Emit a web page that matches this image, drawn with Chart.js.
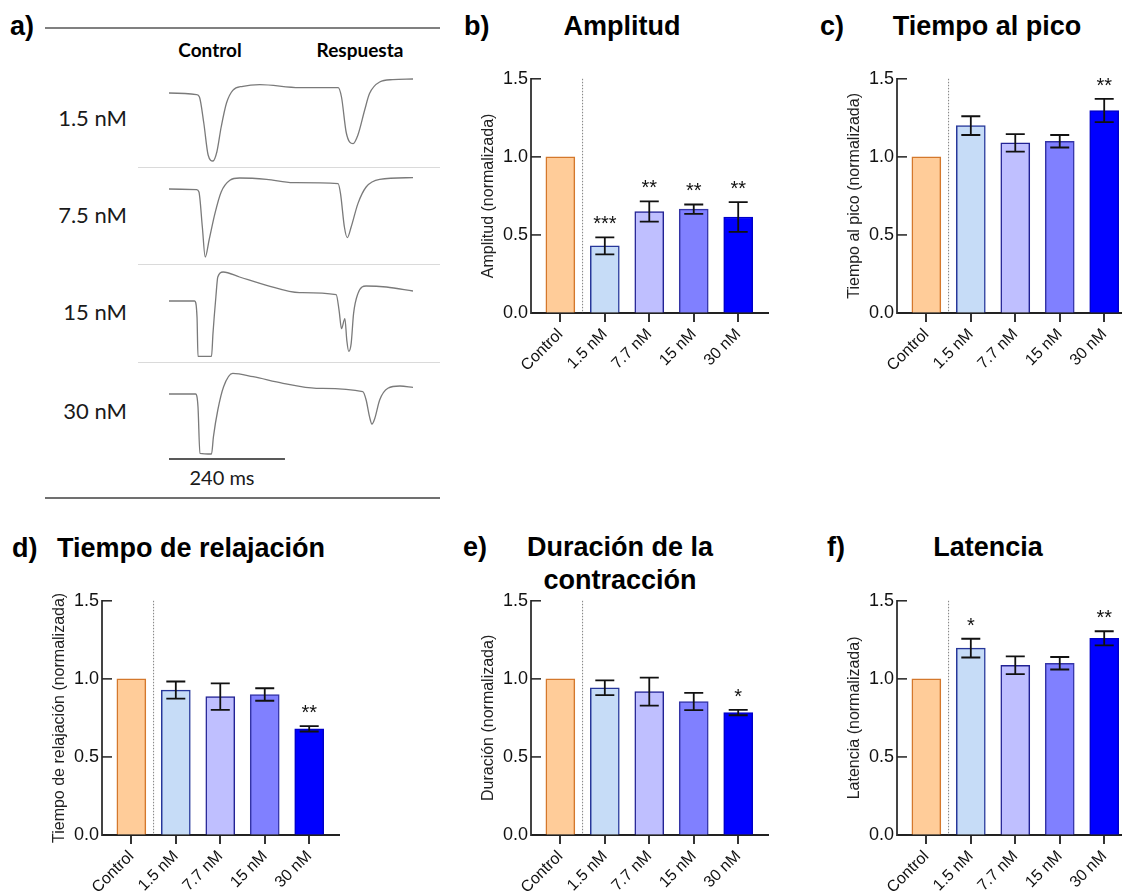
<!DOCTYPE html>
<html lang="es">
<head>
<meta charset="UTF-8">
<title>Contracción - panel</title>
<script src="https://cdn.jsdelivr.net/npm/chart.js"></script>
<style>
    html, body { margin: 0; padding: 0; background: #fff; }
    body { width: 1122px; height: 894px; position: relative; overflow: hidden; font-family: 'Liberation Sans', Arial, sans-serif; color: #111; }
    canvas { position: absolute; }
    .t { position: absolute; white-space: nowrap; line-height: 1; }
    .ttl { font-size: 27px; font-weight: bold; color: #000; }
    .mid { transform: translateX(-50%); }
    .rgt { transform: translateX(-100%); }
    .lato { font-family: Lato, 'Open Sans', sans-serif; color: #1a1a1a; }
    .hl { position: absolute; }
</style>
</head>
<body>

<!-- panel a: registros -->
<div class="t ttl" style="left:10px; top:13px;">a)</div>
<div class="hl" style="left:45px; top:27px; width:395px; height:2px; background:#808080;"></div>
<div class="t lato mid" style="left:210px; top:40px; font-size:19px; font-weight:bold; color:#000;">Control</div>
<div class="t lato mid" style="left:360px; top:40px; font-size:19px; font-weight:bold; color:#000;">Respuesta</div>
<div class="t lato rgt" style="left:127px; top:107px; font-size:22px;">1.5 nM</div>
<div class="t lato rgt" style="left:127px; top:204px; font-size:22px;">7.5 nM</div>
<div class="t lato rgt" style="left:127px; top:301px; font-size:22px;">15 nM</div>
<div class="t lato rgt" style="left:127px; top:400px; font-size:22px;">30 nM</div>
<div class="hl" style="left:138px; top:167px; width:302px; height:1px; background:#dadada;"></div>
<div class="hl" style="left:138px; top:264px; width:302px; height:1px; background:#dadada;"></div>
<div class="hl" style="left:138px; top:362px; width:302px; height:1px; background:#dadada;"></div>
<div class="hl" style="left:45px; top:497px; width:395px; height:2px; background:#707070;"></div>
<div class="t lato mid" style="left:222px; top:467px; font-size:20px;">240 ms</div>

<canvas id="tr1" width="244" height="110" style="left:169px; top:58px;"></canvas>
<canvas id="tr2" width="244" height="110" style="left:169px; top:154px;"></canvas>
<canvas id="tr3" width="244" height="110" style="left:169px; top:266px;"></canvas>
<canvas id="tr4" width="244" height="110" style="left:169px; top:359px;"></canvas>

<!-- titulos de los graficos de barras -->
<div class="t ttl" style="left:464px; top:13px;">b)</div>
<div class="t ttl mid" style="left:622px; top:13px;">Amplitud</div>
<div class="t ttl" style="left:820px; top:13px;">c)</div>
<div class="t ttl mid" style="left:987px; top:13px;">Tiempo al pico</div>
<div class="t ttl" style="left:12px; top:535px;">d)</div>
<div class="t ttl mid" style="left:191px; top:535px;">Tiempo de relajación</div>
<div class="t ttl" style="left:463px; top:534px;">e)</div>
<div class="t ttl mid" style="left:620px; top:534px;">Duración de la</div>
<div class="t ttl mid" style="left:620px; top:567px;">contracción</div>
<div class="t ttl" style="left:827px; top:534px;">f)</div>
<div class="t ttl mid" style="left:988px; top:534px;">Latencia</div>

<canvas id="chartB" width="303" height="318" style="left:475px; top:65px;"></canvas>
<canvas id="chartC" width="303" height="318" style="left:841px; top:65px;"></canvas>
<canvas id="chartD" width="303" height="318" style="left:46px; top:587px;"></canvas>
<canvas id="chartE" width="303" height="318" style="left:475px; top:587px;"></canvas>
<canvas id="chartF" width="303" height="318" style="left:841px; top:587px;"></canvas>

<script>
    // ---- datos ----
    var categories = ['Control', '1.5 nM', '7.7 nM', '15 nM', '30 nM'];
    var yTicks = [0, 0.5, 1.0, 1.5];

    var amplitudMean = [1.0, 0.43, 0.65, 0.665, 0.615];
    var amplitudErr  = [0, 0.055, 0.065, 0.03, 0.095];
    var amplitudSig  = ['', '***', '**', '**', '**'];

    var picoMean = [1.0, 1.20, 1.09, 1.10, 1.297];
    var picoErr  = [0, 0.06, 0.056, 0.04, 0.075];
    var picoSig  = ['', '', '', '', '**'];

    var relajMean = [1.0, 0.928, 0.886, 0.90, 0.68];
    var relajErr  = [0, 0.055, 0.085, 0.04, 0.017];
    var relajSig  = ['', '', '', '', '**'];

    var duracionMean = [1.0, 0.943, 0.918, 0.855, 0.784];
    var duracionErr  = [0, 0.047, 0.09, 0.055, 0.017];
    var duracionSig  = ['', '', '', '', '*'];

    var latenciaMean = [1.0, 1.197, 1.087, 1.10, 1.26];
    var latenciaErr  = [0, 0.06, 0.057, 0.04, 0.045];
    var latenciaSig  = ['', '*', '', '', '**'];

    // registros [tiempo ms, señal u.a.]
    var trace15 = [[0,0],[57,-0.16],[63,-0.4],[72,-3.0],[81,-6.2],[91,-6.8],[99,-5.9],[108,-3.4],[119,-1.0],[132,0.27],[153,0.67],[188,0.84],[270,0.54],[350,0.54],[357,-0.4],[367,-4.0],[381,-5.06],[391,-4.2],[405,-1.7],[415,-0.06],[436,1.1],[463,1.34],[505,1.4]];
    var trace75 = [[0,0],[57,-0.06],[62,-0.3],[69,-3.8],[75,-6.8],[83,-5.1],[95,-2.46],[108,-0.3],[126,0.87],[146,1.1],[202,0.97],[257,0.64],[350,0.54],[355,-0.46],[363,-3.8],[369,-4.86],[377,-3.8],[391,-1.46],[408,0.2],[436,0.97],[505,1.14]];
    var trace150 = [[0,0],[53,0],[58,-1.6],[60,-5.53],[88,-5.53],[91,-3.26],[97,0.4],[101,2.4],[112,2.9],[146,2.4],[202,1.57],[270,0.84],[346,0.64],[352,-0.93],[357,-2.76],[364,-1.76],[368,-3.93],[372,-5.03],[377,-4.26],[382,-1.26],[391,0.74],[408,1.5],[450,1.4],[505,1.0]];
    var trace300 = [[0,0],[55,0],[60,-1.27],[64,-5.93],[88,-6.0],[92,-4.27],[101,-1.6],[113,0.73],[132,2.07],[174,1.73],[236,1.07],[305,0.57],[401,0.23],[408,-0.6],[415,-2.27],[420,-3.0],[426,-2.43],[436,-0.6],[453,0.57],[478,0.8],[505,0.67]];
    var scaleBarMs = [0, 240];
    var scaleBarLevel = -6.5;

    // ---- estilos ----
    Chart.defaults.font.family = "'Liberation Sans', Arial, sans-serif";
    var barFill = ['#FFCC99', '#C6DCF7', '#BFBFFF', '#8080FF', '#0000FF'];
    var barEdge = ['#D4782C', '#27379A', '#222294', '#3434A6', '#0000C8'];

    // registros del panel a
    function traceChart(id, pts, extra) {
        var sets = [{
            data: pts.map(function (p) { return { x: p[0], y: p[1] }; }),
            borderColor: '#7a7a7a',
            borderWidth: 1.3,
            pointRadius: 0,
            cubicInterpolationMode: 'monotone'
        }];
        if (extra) sets.push(extra);
        return new Chart(document.getElementById(id), {
            type: 'line',
            data: { datasets: sets },
            options: {
                responsive: false,
                animation: false,
                layout: { padding: 0 },
                plugins: { legend: { display: false }, tooltip: { enabled: false } },
                scales: {
                    x: { type: 'linear', display: false, min: 0, max: 505 },
                    y: { display: false, min: -7.5, max: 3.5 }
                }
            }
        });
    }

    traceChart('tr1', trace15);
    traceChart('tr2', trace75);
    traceChart('tr3', trace150);
    traceChart('tr4', trace300, {
        data: scaleBarMs.map(function (t) { return { x: t, y: scaleBarLevel }; }),
        borderColor: '#222',
        borderWidth: 1.5,
        pointRadius: 0
    });

    // barras de error, asteriscos, ticks interiores y linea punteada
    function panelMarks(err, sig) {
        return {
            id: 'panelMarks',
            afterDatasetsDraw: function (chart) {
                var ctx = chart.ctx, area = chart.chartArea;
                var x = chart.scales.x, y = chart.scales.y;
                var vals = chart.data.datasets[0].data;
                ctx.save();

                // separador Control / tratamientos
                var sx = x.getPixelForValue(0.5);
                ctx.strokeStyle = '#808080';
                ctx.lineWidth = 1;
                ctx.setLineDash([1.5, 1.5]);
                ctx.beginPath();
                ctx.moveTo(sx, area.top);
                ctx.lineTo(sx, area.bottom);
                ctx.stroke();
                ctx.setLineDash([]);

                // ticks del eje y hacia dentro
                ctx.strokeStyle = '#222';
                ctx.lineWidth = 1.5;
                y.ticks.forEach(function (t) {
                    var py = y.getPixelForValue(t.value);
                    ctx.beginPath();
                    ctx.moveTo(area.left, py);
                    ctx.lineTo(area.left + 10, py);
                    ctx.stroke();
                });

                // barras de error
                ctx.strokeStyle = '#111';
                ctx.lineWidth = 1.8;
                ctx.fillStyle = '#111';
                ctx.font = "20px 'Liberation Sans', Arial, sans-serif";
                ctx.textAlign = 'center';
                ctx.textBaseline = 'alphabetic';
                err.forEach(function (e, i) {
                    if (!e) return;
                    var m = vals[i].y;
                    var px = x.getPixelForValue(i);
                    var top = y.getPixelForValue(m + e);
                    var bot = y.getPixelForValue(m - e);
                    ctx.beginPath();
                    ctx.moveTo(px, top); ctx.lineTo(px, bot);
                    ctx.moveTo(px - 9.5, top); ctx.lineTo(px + 9.5, top);
                    ctx.moveTo(px - 9.5, bot); ctx.lineTo(px + 9.5, bot);
                    ctx.stroke();
                    if (sig[i]) ctx.fillText(sig[i], px, top - 7);
                });
                ctx.restore();
            }
        };
    }

    function barPanel(id, mean, err, sig, yTitle) {
        return new Chart(document.getElementById(id), {
            type: 'bar',
            data: {
                datasets: [{
                    data: mean.map(function (v, i) { return { x: i, y: v }; }),
                    backgroundColor: barFill,
                    borderColor: barEdge,
                    borderWidth: 1.5,
                    borderSkipped: 'start',
                    barThickness: 29
                }]
            },
            options: {
                responsive: false,
                animation: false,
                layout: { padding: { top: 12, right: 10, left: 0, bottom: 0 } },
                plugins: { legend: { display: false }, tooltip: { enabled: false } },
                scales: {
                    x: {
                        type: 'linear',
                        min: -0.66,
                        max: 4.67,
                        offset: false,
                        z: 1,
                        afterBuildTicks: function (s) { s.ticks = categories.map(function (c, i) { return { value: i }; }); },
                        afterFit: function (s) { s.height = 70; },
                        ticks: {
                            callback: function (v) { return categories[v]; },
                            autoSkip: false,
                            minRotation: 45,
                            maxRotation: 45,
                            padding: 3,
                            color: '#111',
                            font: { size: 16 }
                        },
                        grid: { offset: false, drawOnChartArea: false, drawTicks: true, tickLength: 9, color: '#333', lineWidth: 2 },
                        border: { display: true, color: '#222', width: 2, dash: [1.5, 2] }
                    },
                    y: {
                        min: 0,
                        max: 1.5,
                        afterBuildTicks: function (s) { s.ticks = yTicks.map(function (v) { return { value: v }; }); },
                        afterFit: function (s) { s.width = 56; },
                        ticks: {
                            callback: function (v) { return v.toFixed(1); },
                            padding: 3,
                            color: '#111',
                            font: { size: 18 }
                        },
                        grid: { drawOnChartArea: false, drawTicks: false },
                        border: { display: true, color: '#444', width: 2 },
                        title: { display: true, text: yTitle, color: '#222', font: { size: 16 }, padding: { top: 4, bottom: 4 } }
                    }
                }
            },
            plugins: [panelMarks(err, sig)]
        });
    }

    barPanel('chartB', amplitudMean, amplitudErr, amplitudSig, 'Amplitud (normalizada)');
    barPanel('chartC', picoMean, picoErr, picoSig, 'Tiempo al pico (normalizada)');
    barPanel('chartD', relajMean, relajErr, relajSig, 'Tiempo de relajación (normalizada)');
    barPanel('chartE', duracionMean, duracionErr, duracionSig, 'Duración (normalizada)');
    barPanel('chartF', latenciaMean, latenciaErr, latenciaSig, 'Latencia (normalizada)');
</script>
</body>
</html>
